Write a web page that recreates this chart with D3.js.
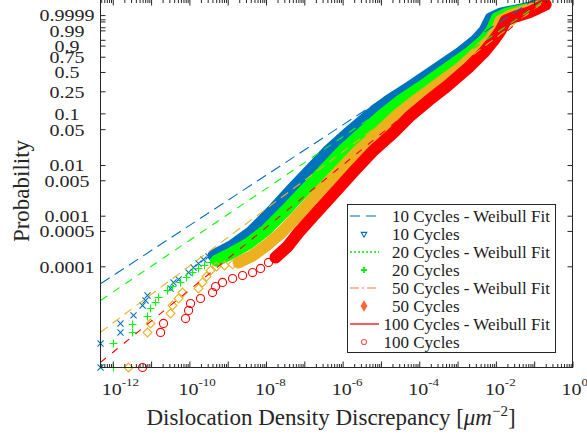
<!DOCTYPE html>
<html>
<head>
<meta charset="utf-8">
<script src="https://cdn.jsdelivr.net/npm/d3@7"></script>
<style>
  html, body { margin: 0; padding: 0; background: #fff; }
  svg { display: block; font-family: "Liberation Serif", "Times New Roman", serif; }
</style>
</head>
<body>
<svg id="chart" width="587" height="437"></svg>
<script>
// ---- Weibull probability plot of dislocation density discrepancy ----
const seriesNames = ["10 Cycles", "20 Cycles", "50 Cycles", "100 Cycles"];

// sparse lower tail (individual markers): x in μm^-2, p = cumulative probability
const c10TailX = [4.79e-13,4.79e-13,1.59e-12,1.59e-12,3.48e-12,5.98e-12,7.16e-12,8.07e-12,3.22e-11,3.85e-11,5.21e-11,9.51e-11,1.28e-10,1.73e-10,2.34e-10,3.16e-10];
const c10TailP = [1.0e-6,2.98e-6,4.92e-6,7.41e-6,1.07e-5,1.68e-5,2.11e-5,2.65e-5,3.64e-5,4.79e-5,5.48e-5,7.53e-5,9.46e-5,1.135e-4,1.36e-4,1.56e-4];
const c20TailX = [1.04e-12,1.04e-12,3.28e-12,3.28e-12,8.07e-12,9.66e-12,1.31e-11,1.56e-11,2.69e-11,3.63e-11,5.87e-11,8.41e-11,1.21e-10,1.73e-10,2.48e-10,3.56e-10];
const c20TailP = [1.0e-6,2.98e-6,4.92e-6,7.08e-6,1.02e-5,1.47e-5,1.93e-5,2.42e-5,3.33e-5,3.99e-5,4.79e-5,6.01e-5,7.53e-5,9.06e-5,1.04e-4,1.19e-4];
const c50TailX = [2.58e-12,8.07e-12,9.66e-12,3.22e-11,3.63e-11,5.21e-11,6.62e-11,1.73e-10,2.20e-10,2.81e-10,3.56e-10,5.12e-10,8.28e-10,1.34e-9];
const c50TailP = [1.0e-6,4.92e-6,7.41e-6,1.17e-5,1.68e-5,2.31e-5,3.03e-5,3.64e-5,4.79e-5,6.28e-5,8.26e-5,9.91e-5,1.04e-4,1.09e-4];
const c100TailX = [5.98e-12,1.77e-11,2.11e-11,7.93e-11,9.51e-11,1.07e-10,1.95e-10,4.02e-10,4.82e-10,7.33e-10,1.34e-9,2.44e-9,4.46e-9,7.21e-9,1.16e-8];
const c100TailP = [1.0e-6,4.92e-6,7.41e-6,9.29e-6,1.34e-5,1.84e-5,2.31e-5,3.03e-5,3.99e-5,4.79e-5,5.74e-5,6.58e-5,7.53e-5,9.06e-5,1.19e-4];

// dense body of each empirical distribution
const c10BandX = [4.27e-10,1.34e-9,3.95e-9,1.31e-8,4.37e-8,1.46e-7,4.30e-7,1.43e-6,4.75e-6,1.58e-5,5.94e-5,3.20e-4,1.20e-3,2.96e-3,5.08e-3,7.29e-3,0.0133,0.0328,0.0807,0.123];
const c10BandP = [1.63e-4,2.58e-4,4.66e-4,1.156e-3,3.15e-3,0.00815,0.0193,0.0431,0.0911,0.172,0.300,0.572,0.813,0.945,0.9896,0.99963,0.99995,0.999988,0.9999978,0.99999936];
const c20BandX = [5.12e-10,1.34e-9,3.50e-9,9.73e-9,3.05e-8,1.01e-7,3.38e-7,9.98e-7,3.32e-6,1.04e-5,3.26e-5,1.15e-4,5.83e-4,2.06e-3,4.79e-3,7.74e-3,0.01045,0.0191,0.0443,0.147];
const c20BandP = [1.30e-4,1.87e-4,2.82e-4,5.10e-4,1.21e-3,3.15e-3,0.00815,0.0193,0.0431,0.0911,0.172,0.300,0.572,0.813,0.945,0.9896,0.99963,0.99995,0.999988,0.9999988];
const c50BandX = [1.92e-9,4.46e-9,1.03e-8,2.55e-8,7.98e-8,2.65e-7,8.83e-7,2.61e-6,8.67e-6,2.56e-5,8.04e-5,2.52e-4,1.20e-3,3.14e-3,6.87e-3,0.01045,0.0133,0.0243,0.0598,0.123];
const c50BandP = [1.19e-4,1.63e-4,2.58e-4,4.66e-4,1.156e-3,3.15e-3,0.00815,0.0193,0.0431,0.0911,0.172,0.300,0.572,0.813,0.945,0.9896,0.99926,0.999884,0.999988,0.9999988];
const c100BandX = [1.77e-8,3.66e-8,7.08e-8,2.09e-7,6.95e-7,2.18e-6,6.43e-6,2.14e-5,5.94e-5,1.75e-4,5.18e-4,1.94e-3,4.79e-3,8.73e-3,0.0133,0.0180,0.0328,0.0716,0.123,0.199];
const c100BandP = [1.49e-4,2.46e-4,4.66e-4,1.156e-3,3.15e-3,0.00815,0.0193,0.0431,0.0911,0.172,0.300,0.572,0.813,0.945,0.9896,0.99926,0.999825,0.9999686,0.9999961,0.99999967];

// two-parameter Weibull fits: F(x) = 1 - exp(-(x/scale)^shape)
const fitShape = [0.4965, 0.5117, 0.5639, 0.6169];
const fitScale = [2.71e-4, 6.58e-4, 1.21e-3, 1.75e-3];

// axis ticks
const probTicks = [0.0001,0.0005,0.001,0.005,0.01,0.05,0.1,0.25,0.5,0.75,0.9,0.95,0.99,0.995,0.999,0.9995,0.9999];
const probTickLabels = ["0.0001","0.0005","0.001","0.005","0.01","0.05","0.1","0.25","0.5","0.75","0.9","","0.99","","","","0.9999"];
const xTickExponents = [-12,-10,-8,-6,-4,-2,0];
const xDomain = [4.78e-13, 1];
const hazardDomain = [1e-6, 18.75];

// ---- layout ----
const frame = { left: 100.5, right: 572.5, top: -0.5, bottom: 367.5 };
const axisColor = "#262626";
const colors = ["#0072BD", "#00FF00", "#EDB120", "#FF0000"];

const svg = d3.select("#chart");
const x = d3.scaleLog().domain(xDomain).range([frame.left, frame.right]);
const yH = d3.scaleLog().domain(hazardDomain).range([frame.bottom, frame.top]);
const hazard = p => -Math.log1p(-p);
const y = p => yH(hazard(p));

svg.append("defs").append("clipPath").attr("id", "plotClip")
  .append("rect")
  .attr("x", frame.left).attr("y", frame.top)
  .attr("width", frame.right - frame.left).attr("height", frame.bottom - frame.top);

const tails = [[c10TailX, c10TailP], [c20TailX, c20TailP], [c50TailX, c50TailP], [c100TailX, c100TailP]]
  .map(([xs, ps]) => xs.map((v, i) => ({ x: v, p: ps[i] })));
const bands = [[c10BandX, c10BandP], [c20BandX, c20BandP], [c50BandX, c50BandP], [c100BandX, c100BandP]]
  .map(([xs, ps]) => xs.map((v, i) => ({ x: v, p: ps[i] })));

// marker shapes per series
const markerSym = [
  d3.symbol().type(d3.symbolTimes).size(26),
  d3.symbol().type(d3.symbolPlus).size(22),
  d3.symbol().type(d3.symbolDiamond2).size(50),
  d3.symbol().type(d3.symbolCircle).size(52)
];

const dataLayer = svg.append("g");
const bandLine = d3.line().x(d => x(d.x)).y(d => y(d.p));

seriesNames.forEach((name, i) => {
  const g = dataLayer.append("g");
  g.append("path")
    .datum(bands[i])
    .attr("d", bandLine)
    .attr("clip-path", "url(#plotClip)")
    .attr("fill", "none")
    .attr("stroke", colors[i])
    .attr("stroke-width", 12)
    .attr("stroke-linecap", "round")
    .attr("stroke-linejoin", "round");
  g.selectAll("path.mk")
    .data(tails[i].concat(bands[i]))
    .join("path")
    .attr("class", "mk")
    .attr("transform", d => `translate(${x(d.x)},${y(d.p)})`)
    .attr("d", markerSym[i])
    .attr("fill", "none")
    .attr("stroke", colors[i])
    .attr("stroke-width", 1.1);
});

// Weibull fit lines (straight on this paper)
const fitDash = ["11,6", "8,7", "9,6", "7,8"];
const fitLayer = svg.append("g").attr("clip-path", "url(#plotClip)");
seriesNames.forEach((name, i) => {
  const ends = xDomain.map(v => ({ x: v, h: Math.pow(v / fitScale[i], fitShape[i]) }));
  fitLayer.append("path")
    .datum(ends)
    .attr("d", d3.line().x(d => x(d.x)).y(d => yH(d.h)))
    .attr("fill", "none")
    .attr("stroke", colors[i])
    .attr("stroke-width", 1.1)
    .attr("stroke-dasharray", fitDash[i]);
});

// ---- axes ----
const majors = d3.range(-12, 1).map(e => Math.pow(10, e));
const minors = [];
for (let e = -13; e < 0; e++) for (let k = 2; k <= 9; k++) {
  const v = k * Math.pow(10, e);
  if (v >= xDomain[0] && v <= xDomain[1]) minors.push(v);
}
function styleAxis(g) {
  g.select(".domain").remove();
  g.selectAll("line").attr("stroke", axisColor);
}
svg.append("g").attr("transform", `translate(0,${frame.bottom})`)
  .call(d3.axisBottom(x).tickValues(majors).tickSize(-6).tickFormat("")).call(styleAxis);
svg.append("g").attr("transform", `translate(0,${frame.bottom})`)
  .call(d3.axisBottom(x).tickValues(minors).tickSize(-3.5).tickFormat("")).call(styleAxis);
svg.append("g").attr("transform", `translate(0,${frame.top})`)
  .call(d3.axisTop(x).tickValues(majors).tickSize(-6).tickFormat("")).call(styleAxis);
svg.append("g").attr("transform", `translate(0,${frame.top})`)
  .call(d3.axisTop(x).tickValues(minors).tickSize(-3.5).tickFormat("")).call(styleAxis);

const hazTicks = probTicks.map(hazard);
const yAxisL = svg.append("g").attr("transform", `translate(${frame.left},0)`)
  .call(d3.axisLeft(yH).tickValues(hazTicks).tickSize(-5).tickPadding(0)
    .tickFormat((d, i) => probTickLabels[i]));
styleAxis(yAxisL);
yAxisL.selectAll("text")
  .attr("x", -33.5)
  .attr("dy", "0.34em")
  .attr("text-anchor", "middle")
  .attr("transform", "scale(1,0.86)")
  .attr("fill", axisColor)
  .style("font-family", '"Liberation Serif", "Times New Roman", serif')
  .style("font-size", "20px");
svg.append("g").attr("transform", `translate(${frame.right},0)`)
  .call(d3.axisRight(yH).tickValues(hazTicks).tickSize(-5).tickFormat("")).call(styleAxis);

// frame
svg.append("rect")
  .attr("x", frame.left).attr("y", frame.top)
  .attr("width", frame.right - frame.left).attr("height", frame.bottom - frame.top)
  .attr("fill", "none").attr("stroke", axisColor).attr("stroke-width", 1);

// x tick labels: 10^e
const xLab = svg.append("g").attr("fill", axisColor);
xTickExponents.forEach(e => {
  const t = xLab.append("text")
    .attr("transform", `translate(${x(Math.pow(10, e)) - 11},395) scale(1,0.86)`)
    .style("font-size", "20px");
  t.append("tspan").text("10");
  t.append("tspan").attr("dy", -10).style("font-size", "13px").text(e < 0 ? "-" + (-e) : String(e));
});

// axis titles
svg.append("text")
  .attr("transform", "translate(29,191) rotate(-90)")
  .attr("text-anchor", "middle")
  .attr("fill", axisColor)
  .style("font-size", "23px")
  .text("Probability");

const xt = svg.append("text")
  .attr("x", 331).attr("y", 425)
  .attr("text-anchor", "middle")
  .attr("fill", axisColor)
  .style("font-size", "23px");
xt.append("tspan").text("Dislocation Density Discrepancy [");
xt.append("tspan").style("font-style", "italic").text("μm");
xt.append("tspan").attr("dy", -9).style("font-size", "15px").text("−2");
xt.append("tspan").attr("dy", 9).text("]");

// ---- legend ----
const legendEntries = [
  { label: "10 Cycles - Weibull Fit", kind: "line", color: "#4f9ede", dash: "10,6" },
  { label: "10 Cycles", kind: "tri", color: "#0072BD" },
  { label: "20 Cycles - Weibull Fit", kind: "line", color: "#00ee00", dash: "2,2" },
  { label: "20 Cycles", kind: "plus", color: "#00ee00" },
  { label: "50 Cycles - Weibull Fit", kind: "line", color: "#f4a582", dash: "9,3,2,3" },
  { label: "50 Cycles", kind: "diamond", color: "#ff6633" },
  { label: "100 Cycles - Weibull Fit", kind: "line", color: "#ff0000", dash: null },
  { label: "100 Cycles", kind: "circle", color: "#ff5555" }
];
const lg = svg.append("g");
lg.append("rect")
  .attr("x", 347.5).attr("y", 204.5).attr("width", 208).attr("height", 148)
  .attr("fill", "#fff").attr("stroke", axisColor).attr("stroke-width", 1);
legendEntries.forEach((e, i) => {
  const cy = 216 + i * 18;
  if (e.kind === "line") {
    lg.append("line")
      .attr("x1", 350).attr("x2", 379).attr("y1", cy).attr("y2", cy)
      .attr("stroke", e.color).attr("stroke-width", 1.3)
      .attr("stroke-dasharray", e.dash);
  } else {
    const sym = {
      tri: d3.symbol().type(d3.symbolTriangle2).size(22),
      plus: d3.symbol().type(d3.symbolPlus).size(14),
      diamond: d3.symbol().type(d3.symbolDiamond).size(26),
      circle: d3.symbol().type(d3.symbolCircle).size(20)
    }[e.kind];
    lg.append("path")
      .attr("d", sym)
      .attr("transform", `translate(364,${cy})` + (e.kind === "tri" ? " rotate(180)" : ""))
      .attr("fill", e.kind === "diamond" ? e.color : "none")
      .attr("stroke", e.color)
      .attr("stroke-width", e.kind === "plus" ? 1.8 : 1.1);
  }
  lg.append("text")
    .attr("x", e.label.startsWith("100") ? 383.5 : 392)
    .attr("y", cy + 6)
    .attr("fill", "#1a1a1a")
    .style("font-size", "17px")
    .text(e.label);
});
</script>
</body>
</html>
